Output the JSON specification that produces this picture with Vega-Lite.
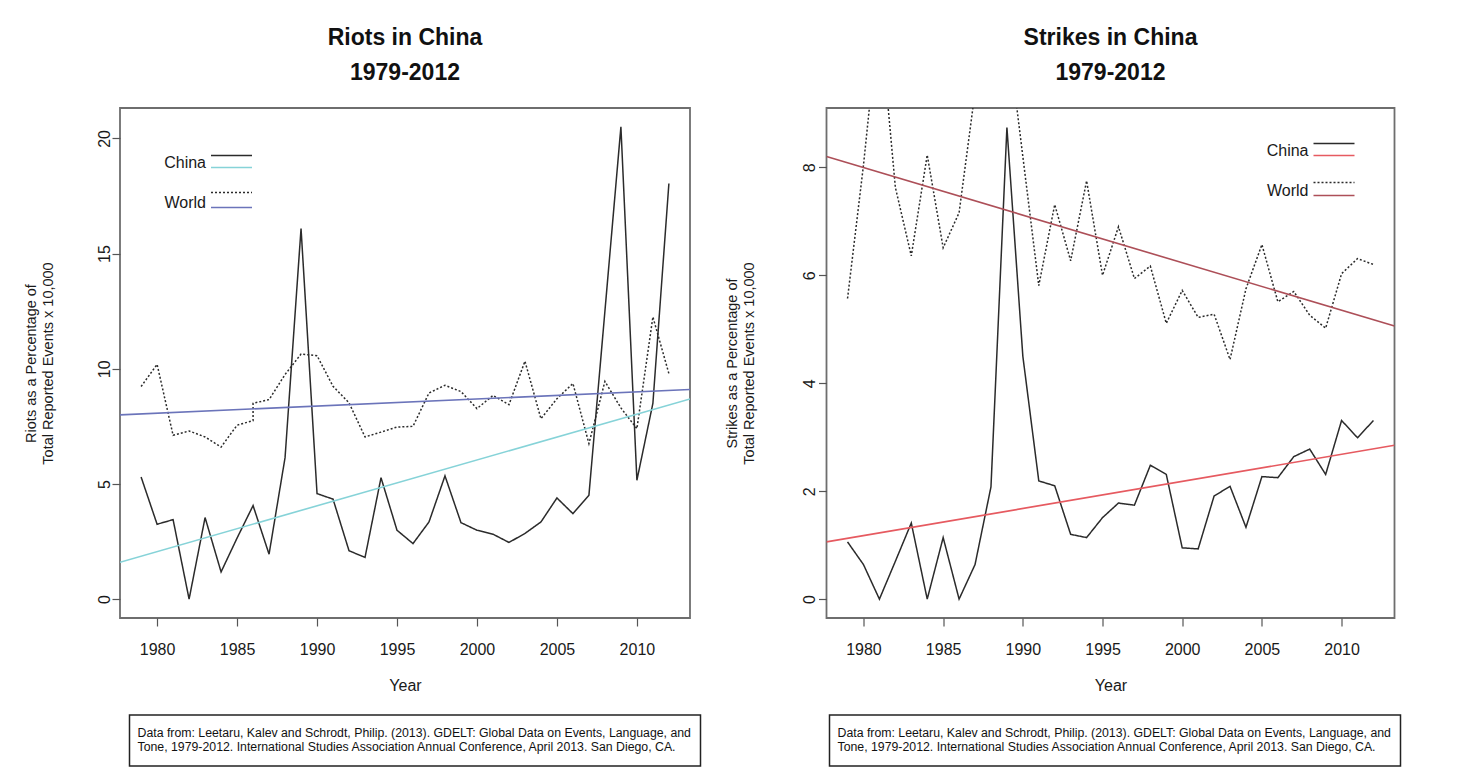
{
  "$schema": "https://vega.github.io/schema/vega-lite/v6.json",
  "background": "white",
  "padding": {"left": 22, "top": 26, "right": 0, "bottom": 0},
  "config": {
    "font": "Liberation Sans",
    "view": {"stroke": "#6e6e6e", "strokeWidth": 1.8},
    "title": {"font": "Liberation Sans", "fontWeight": "bold", "fontSize": 23, "lineHeight": 35, "color": "#111", "anchor": "middle", "offset": 23},
    "axis": {"grid": false, "domain": false, "tickSize": 8, "tickColor": "#555", "tickWidth": 1.2, "labelFont": "Liberation Sans", "labelFontSize": 16, "labelColor": "#1a1a1a", "titleFont": "Liberation Sans", "titleFontSize": 14.5, "titleFontWeight": "normal", "titleColor": "#1a1a1a", "labelOverlap": false, "labelFlush": false},
    "axisX": {"labelPadding": 15, "titlePadding": 20, "titleFontSize": 16},
    "axisY": {"labelAngle": 270, "labelAlign": "center", "labelBaseline": "bottom", "titleLineHeight": 17},
    "legend": {"orient": "none", "title": null, "padding": 0, "symbolType": "stroke", "symbolSize": 1681, "symbolStrokeWidth": 1.6, "labelFont": "Liberation Sans", "labelFontSize": 16, "labelColor": "#1a1a1a"}
  },
  "datasets": {
    "riots": [
      {"year": 1979, "value": 5.30, "series": "China"},
      {"year": 1980, "value": 3.25, "series": "China"},
      {"year": 1981, "value": 3.45, "series": "China"},
      {"year": 1982, "value": 0.00, "series": "China"},
      {"year": 1983, "value": 3.54, "series": "China"},
      {"year": 1984, "value": 1.18, "series": "China"},
      {"year": 1985, "value": 2.65, "series": "China"},
      {"year": 1986, "value": 4.06, "series": "China"},
      {"year": 1987, "value": 1.95, "series": "China"},
      {"year": 1988, "value": 6.14, "series": "China"},
      {"year": 1989, "value": 16.09, "series": "China"},
      {"year": 1990, "value": 4.58, "series": "China"},
      {"year": 1991, "value": 4.34, "series": "China"},
      {"year": 1992, "value": 2.10, "series": "China"},
      {"year": 1993, "value": 1.81, "series": "China"},
      {"year": 1994, "value": 5.27, "series": "China"},
      {"year": 1995, "value": 2.99, "series": "China"},
      {"year": 1996, "value": 2.41, "series": "China"},
      {"year": 1997, "value": 3.35, "series": "China"},
      {"year": 1998, "value": 5.35, "series": "China"},
      {"year": 1999, "value": 3.32, "series": "China"},
      {"year": 2000, "value": 2.99, "series": "China"},
      {"year": 2001, "value": 2.82, "series": "China"},
      {"year": 2002, "value": 2.46, "series": "China"},
      {"year": 2003, "value": 2.85, "series": "China"},
      {"year": 2004, "value": 3.35, "series": "China"},
      {"year": 2005, "value": 4.39, "series": "China"},
      {"year": 2006, "value": 3.71, "series": "China"},
      {"year": 2007, "value": 4.51, "series": "China"},
      {"year": 2008, "value": 12.5, "series": "China"},
      {"year": 2009, "value": 20.5, "series": "China"},
      {"year": 2010, "value": 5.16, "series": "China"},
      {"year": 2011, "value": 8.5, "series": "China"},
      {"year": 2012, "value": 18.04, "series": "China"},
      {"year": 1979, "value": 9.23, "series": "World"},
      {"year": 1980, "value": 10.19, "series": "World"},
      {"year": 1981, "value": 7.11, "series": "World"},
      {"year": 1982, "value": 7.30, "series": "World"},
      {"year": 1983, "value": 7.04, "series": "World"},
      {"year": 1984, "value": 6.60, "series": "World"},
      {"year": 1985, "value": 7.55, "series": "World"},
      {"year": 1986, "value": 7.75, "series": "World"},
      {"year": 1986, "value": 8.50, "series": "World"},
      {"year": 1987, "value": 8.66, "series": "World"},
      {"year": 1988, "value": 9.75, "series": "World"},
      {"year": 1989, "value": 10.64, "series": "World"},
      {"year": 1990, "value": 10.57, "series": "World"},
      {"year": 1991, "value": 9.24, "series": "World"},
      {"year": 1992, "value": 8.52, "series": "World"},
      {"year": 1993, "value": 7.04, "series": "World"},
      {"year": 1994, "value": 7.25, "series": "World"},
      {"year": 1995, "value": 7.47, "series": "World"},
      {"year": 1996, "value": 7.50, "series": "World"},
      {"year": 1997, "value": 8.95, "series": "World"},
      {"year": 1998, "value": 9.28, "series": "World"},
      {"year": 1999, "value": 9.01, "series": "World"},
      {"year": 2000, "value": 8.27, "series": "World"},
      {"year": 2001, "value": 8.84, "series": "World"},
      {"year": 2002, "value": 8.44, "series": "World"},
      {"year": 2003, "value": 10.33, "series": "World"},
      {"year": 2004, "value": 7.83, "series": "World"},
      {"year": 2005, "value": 8.70, "series": "World"},
      {"year": 2006, "value": 9.36, "series": "World"},
      {"year": 2007, "value": 6.75, "series": "World"},
      {"year": 2008, "value": 9.45, "series": "World"},
      {"year": 2009, "value": 8.30, "series": "World"},
      {"year": 2010, "value": 7.40, "series": "World"},
      {"year": 2011, "value": 12.25, "series": "World"},
      {"year": 2012, "value": 9.79, "series": "World"}
    ],
    "riotTrend": [
      {"year": 1977.68, "value": 1.60, "trend": "China"},
      {"year": 2013.32, "value": 8.69, "trend": "China"},
      {"year": 1977.68, "value": 8.00, "trend": "World"},
      {"year": 2013.32, "value": 9.10, "trend": "World"}
    ],
    "strikes": [
      {"year": 1979, "value": 1.06, "series": "China"},
      {"year": 1980, "value": 0.64, "series": "China"},
      {"year": 1981, "value": 0.00, "series": "China"},
      {"year": 1982, "value": 0.70, "series": "China"},
      {"year": 1983, "value": 1.41, "series": "China"},
      {"year": 1984, "value": 0.00, "series": "China"},
      {"year": 1985, "value": 1.14, "series": "China"},
      {"year": 1986, "value": 0.00, "series": "China"},
      {"year": 1987, "value": 0.64, "series": "China"},
      {"year": 1988, "value": 2.08, "series": "China"},
      {"year": 1989, "value": 8.74, "series": "China"},
      {"year": 1990, "value": 4.50, "series": "China"},
      {"year": 1991, "value": 2.19, "series": "China"},
      {"year": 1992, "value": 2.10, "series": "China"},
      {"year": 1993, "value": 1.20, "series": "China"},
      {"year": 1994, "value": 1.14, "series": "China"},
      {"year": 1995, "value": 1.51, "series": "China"},
      {"year": 1996, "value": 1.78, "series": "China"},
      {"year": 1997, "value": 1.74, "series": "China"},
      {"year": 1998, "value": 2.48, "series": "China"},
      {"year": 1999, "value": 2.31, "series": "China"},
      {"year": 2000, "value": 0.95, "series": "China"},
      {"year": 2001, "value": 0.93, "series": "China"},
      {"year": 2002, "value": 1.91, "series": "China"},
      {"year": 2003, "value": 2.09, "series": "China"},
      {"year": 2004, "value": 1.33, "series": "China"},
      {"year": 2005, "value": 2.27, "series": "China"},
      {"year": 2006, "value": 2.25, "series": "China"},
      {"year": 2007, "value": 2.64, "series": "China"},
      {"year": 2008, "value": 2.78, "series": "China"},
      {"year": 2009, "value": 2.31, "series": "China"},
      {"year": 2010, "value": 3.31, "series": "China"},
      {"year": 2011, "value": 2.99, "series": "China"},
      {"year": 2012, "value": 3.31, "series": "China"},
      {"year": 1979, "value": 5.57, "series": "World"},
      {"year": 1980, "value": 8.04, "series": "World"},
      {"year": 1981, "value": 10.9, "series": "World"},
      {"year": 1982, "value": 7.63, "series": "World"},
      {"year": 1983, "value": 6.36, "series": "World"},
      {"year": 1984, "value": 8.23, "series": "World"},
      {"year": 1985, "value": 6.51, "series": "World"},
      {"year": 1986, "value": 7.16, "series": "World"},
      {"year": 1987, "value": 9.4, "series": "World"},
      {"year": 1988, "value": 10.5, "series": "World"},
      {"year": 1989, "value": 10.6, "series": "World"},
      {"year": 1990, "value": 8.2, "series": "World"},
      {"year": 1991, "value": 5.81, "series": "World"},
      {"year": 1992, "value": 7.31, "series": "World"},
      {"year": 1993, "value": 6.27, "series": "World"},
      {"year": 1994, "value": 7.75, "series": "World"},
      {"year": 1995, "value": 6.00, "series": "World"},
      {"year": 1996, "value": 6.90, "series": "World"},
      {"year": 1997, "value": 5.94, "series": "World"},
      {"year": 1998, "value": 6.17, "series": "World"},
      {"year": 1999, "value": 5.11, "series": "World"},
      {"year": 2000, "value": 5.72, "series": "World"},
      {"year": 2001, "value": 5.22, "series": "World"},
      {"year": 2002, "value": 5.28, "series": "World"},
      {"year": 2003, "value": 4.44, "series": "World"},
      {"year": 2004, "value": 5.75, "series": "World"},
      {"year": 2005, "value": 6.57, "series": "World"},
      {"year": 2006, "value": 5.51, "series": "World"},
      {"year": 2007, "value": 5.70, "series": "World"},
      {"year": 2008, "value": 5.26, "series": "World"},
      {"year": 2009, "value": 5.02, "series": "World"},
      {"year": 2010, "value": 6.03, "series": "World"},
      {"year": 2011, "value": 6.31, "series": "World"},
      {"year": 2012, "value": 6.20, "series": "World"}
    ],
    "strikeTrend": [
      {"year": 1977.68, "value": 1.06, "trend": "China"},
      {"year": 2013.32, "value": 2.85, "trend": "China"},
      {"year": 1977.68, "value": 8.20, "trend": "World"},
      {"year": 2013.32, "value": 5.06, "trend": "World"}
    ],
    "citation": [
      {"text": "Data from: Leetaru, Kalev and Schrodt, Philip. (2013). GDELT: Global Data on Events, Language, and\nTone, 1979-2012. International Studies Association Annual Conference, April 2013. San Diego, CA."}
    ]
  },
  "spacing": 20.5,
  "resolve": {"scale": {"color": "independent", "strokeDash": "independent", "x": "independent", "y": "independent"}},
  "hconcat": [
    {
      "spacing": 20,
      "resolve": {"scale": {"x": "independent", "y": "independent"}},
      "vconcat": [
        {
          "width": 570,
          "height": 510,
          "title": {"text": ["Riots in China", "1979-2012"]},
          "encoding": {
            "x": {"field": "year", "type": "quantitative", "scale": {"domain": [1977.68, 2013.32], "nice": false, "zero": false}, "axis": {"values": [1980, 1985, 1990, 1995, 2000, 2005, 2010], "format": "d", "title": "Year"}},
            "y": {"field": "value", "type": "quantitative", "scale": {"domain": [-0.82, 21.32], "nice": false, "zero": false}, "axis": {"values": [0, 5, 10, 15, 20], "labelPadding": 0, "titlePadding": 40.5, "title": ["Riots as a Percentage of", "Total Reported Events x 10,000"]}}
          },
          "layer": [
            {
              "data": {"name": "riots"},
              "mark": {"type": "line", "color": "#2b2b2b", "strokeWidth": 1.5, "clip": true},
              "encoding": {
                "strokeDash": {"field": "series", "type": "nominal", "scale": {"domain": ["China", "World"], "range": [[1, 0], [2, 2]]}, "legend": {"legendX": 90, "legendY": 26, "rowPadding": 7, "labelExpr": "''"}}
              }
            },
            {
              "data": {"name": "riotTrend"},
              "mark": {"type": "line", "strokeWidth": 1.6, "clip": true},
              "encoding": {
                "color": {"field": "trend", "type": "nominal", "scale": {"domain": ["China", "World"], "range": ["#86d3d8", "#6b74ba"]}, "legend": {"legendX": 90, "legendY": 38, "rowPadding": 15, "labelAlign": "right", "labelOffset": -47, "labelBaseline": "alphabetic"}}
              }
            }
          ],
          "resolve": {"legend": {"strokeDash": "independent", "color": "independent"}}
        },
        {
          "spacing": 7.5,
          "resolve": {"scale": {"x": "independent", "y": "independent"}},
          "hconcat": [
            {
              "width": 1,
              "height": 51,
              "view": {"stroke": null},
              "data": {"values": []},
              "mark": {"type": "point", "opacity": 0}
            },
            {
              "width": 571,
              "height": 51,
              "view": {"stroke": "#222", "strokeWidth": 1.5},
              "data": {"name": "citation"},
              "mark": {"type": "text", "align": "left", "baseline": "middle", "dx": 8, "dy": -8, "lineBreak": "\n", "lineHeight": 14, "font": "Liberation Sans", "fontSize": 12.3, "color": "#111"},
              "encoding": {
                "x": {"datum": 0, "type": "quantitative", "scale": {"domain": [0, 1]}, "axis": null},
                "y": {"datum": 0.5, "type": "quantitative", "scale": {"domain": [0, 1]}, "axis": null},
                "text": {"field": "text"}
              }
            }
          ]
        }
      ]
    },
    {
      "spacing": 20,
      "resolve": {"scale": {"x": "independent", "y": "independent"}},
      "vconcat": [
        {
          "width": 568,
          "height": 510,
          "title": {"text": ["Strikes in China", "1979-2012"]},
          "encoding": {
            "x": {"field": "year", "type": "quantitative", "scale": {"domain": [1977.68, 2013.32], "nice": false, "zero": false}, "axis": {"values": [1980, 1985, 1990, 1995, 2000, 2005, 2010], "format": "d", "title": "Year"}},
            "y": {"field": "value", "type": "quantitative", "scale": {"domain": [-0.35, 9.1], "nice": false, "zero": false}, "axis": {"values": [0, 2, 4, 6, 8], "labelPadding": 1, "titlePadding": 45.5, "title": ["Strikes as a Percentage of", "Total Reported Events x 10,000"]}}
          },
          "layer": [
            {
              "data": {"name": "strikes"},
              "mark": {"type": "line", "color": "#2b2b2b", "strokeWidth": 1.5, "clip": true},
              "encoding": {
                "strokeDash": {"field": "series", "type": "nominal", "scale": {"domain": ["China", "World"], "range": [[1, 0], [2, 2]]}, "legend": {"legendX": 486, "legendY": 14, "rowPadding": 9, "labelExpr": "''"}}
              }
            },
            {
              "data": {"name": "strikeTrend"},
              "mark": {"type": "line", "strokeWidth": 1.6, "clip": true},
              "encoding": {
                "color": {"field": "trend", "type": "nominal", "scale": {"domain": ["China", "World"], "range": ["#e65a60", "#ad4f58"]}, "legend": {"legendX": 486, "legendY": 26, "rowPadding": 15, "labelAlign": "right", "labelOffset": -47, "labelBaseline": "alphabetic"}}
              }
            }
          ],
          "resolve": {"legend": {"strokeDash": "independent", "color": "independent"}}
        },
        {
          "spacing": 1,
          "resolve": {"scale": {"x": "independent", "y": "independent"}},
          "hconcat": [
            {
              "width": 1,
              "height": 51,
              "view": {"stroke": null},
              "data": {"values": []},
              "mark": {"type": "point", "opacity": 0}
            },
            {
              "width": 571,
              "height": 51,
              "view": {"stroke": "#222", "strokeWidth": 1.5},
              "data": {"name": "citation"},
              "mark": {"type": "text", "align": "left", "baseline": "middle", "dx": 8, "dy": -8, "lineBreak": "\n", "lineHeight": 14, "font": "Liberation Sans", "fontSize": 12.3, "color": "#111"},
              "encoding": {
                "x": {"datum": 0, "type": "quantitative", "scale": {"domain": [0, 1]}, "axis": null},
                "y": {"datum": 0.5, "type": "quantitative", "scale": {"domain": [0, 1]}, "axis": null},
                "text": {"field": "text"}
              }
            }
          ]
        }
      ]
    }
  ]
}
